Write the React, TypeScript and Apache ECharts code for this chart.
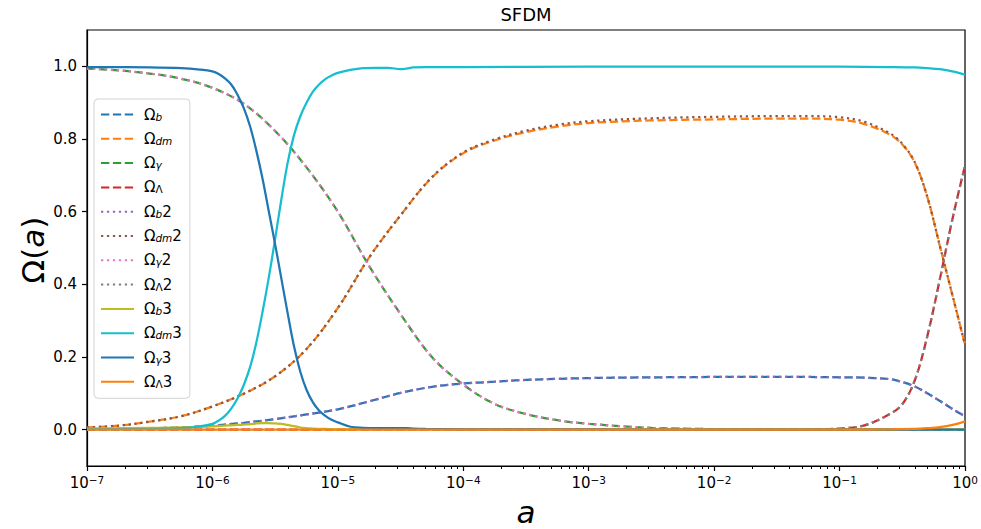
import React, { useEffect, useRef } from 'react';
import * as echarts from 'echarts';

// ---------- data (log10 of scale factor a, and density parameters) ----------
const LOG_A_12 = [-7, -6.75, -6.5, -6.25, -6, -5.75, -5.5, -5.25, -5, -4.75, -4.5, -4.25, -4, -3.75, -3.5, -3.25, -3, -2.5, -2, -1.5, -1.25, -1, -0.8, -0.6, -0.5, -0.4, -0.3, -0.2, -0.1, 0];

const OMEGA_B = [0.001, 0.002, 0.004, 0.006, 0.011, 0.019, 0.029, 0.042, 0.056, 0.078, 0.101, 0.118, 0.127, 0.132, 0.137, 0.140, 0.142, 0.144, 0.145, 0.145, 0.145, 0.144, 0.143, 0.139, 0.131, 0.119, 0.100, 0.079, 0.057, 0.037];
const OMEGA_DM = [0.006, 0.011, 0.022, 0.037, 0.064, 0.099, 0.147, 0.222, 0.335, 0.474, 0.590, 0.694, 0.761, 0.796, 0.819, 0.834, 0.844, 0.851, 0.854, 0.856, 0.856, 0.853, 0.841, 0.812, 0.785, 0.735, 0.640, 0.505, 0.370, 0.234];
const OMEGA_G = [0.994, 0.989, 0.980, 0.966, 0.941, 0.897, 0.822, 0.722, 0.600, 0.450, 0.318, 0.200, 0.124, 0.071, 0.043, 0.026, 0.016, 0.005, 0.0015, 0.0005, 0.0003, 0.0002, 0.0001, 0, 0, 0, 0, 0, 0, 0];
const OMEGA_L = [0, 0, 0, 0, 0, 0, 0, 0, 0, 0, 0, 0, 0, 0, 0, 0, 0, 0, 0, 0, 0.0005, 0.003, 0.012, 0.043, 0.070, 0.136, 0.258, 0.415, 0.580, 0.727];

const OMEGA_B2 = [0.001, 0.002, 0.004, 0.006, 0.011, 0.019, 0.029, 0.042, 0.056, 0.078, 0.101, 0.118, 0.127, 0.132, 0.137, 0.140, 0.142, 0.144, 0.145, 0.145, 0.145, 0.144, 0.143, 0.139, 0.131, 0.119, 0.100, 0.079, 0.057, 0.037];
const OMEGA_DM2 = [0.006, 0.011, 0.022, 0.037, 0.064, 0.099, 0.147, 0.222, 0.335, 0.474, 0.590, 0.695, 0.763, 0.799, 0.823, 0.839, 0.849, 0.857, 0.861, 0.863, 0.863, 0.860, 0.847, 0.816, 0.787, 0.736, 0.640, 0.505, 0.370, 0.234];
const OMEGA_G2 = [0.994, 0.989, 0.980, 0.966, 0.941, 0.897, 0.822, 0.722, 0.600, 0.450, 0.318, 0.200, 0.124, 0.071, 0.043, 0.026, 0.016, 0.005, 0.0015, 0.0005, 0.0003, 0.0002, 0.0001, 0, 0, 0, 0, 0, 0, 0];
const OMEGA_L2 = [0, 0, 0, 0, 0, 0, 0, 0, 0, 0, 0, 0, 0, 0, 0, 0, 0, 0, 0, 0, 0.0005, 0.003, 0.012, 0.043, 0.070, 0.136, 0.258, 0.415, 0.580, 0.727];

const LOG_A_3 = [-7, -6.5, -6.25, -6.1, -6.0, -5.95, -5.9, -5.85, -5.8, -5.75, -5.7, -5.65, -5.6, -5.55, -5.5, -5.45, -5.4, -5.35, -5.3, -5.25, -5.2, -5.15, -5.1, -5.05, -5.0, -4.9, -4.8, -4.7, -4.6, -4.5, -4.45, -4.4, -4.3, -4.0, -3.0, -2.0, -1.0, -0.6, -0.4, -0.3, -0.2, -0.1, 0];

const OMEGA_B3 = [0.003, 0.005, 0.006, 0.008, 0.009, 0.010, 0.011, 0.012, 0.013, 0.014, 0.015, 0.017, 0.018, 0.018, 0.017, 0.016, 0.013, 0.010, 0.006, 0.004, 0.003, 0.002, 0.002, 0.001, 0.001, 0.001, 0.001, 0.001, 0.001, 0.001, 0.001, 0.001, 0.001, 0.001, 0.001, 0.001, 0.001, 0.001, 0.001, 0.001, 0.001, 0.001, 0.001];
const OMEGA_DM3 = [0.001, 0.002, 0.004, 0.009, 0.016, 0.025, 0.038, 0.058, 0.086, 0.123, 0.172, 0.240, 0.325, 0.420, 0.525, 0.635, 0.735, 0.810, 0.862, 0.900, 0.930, 0.950, 0.965, 0.975, 0.982, 0.990, 0.995, 0.996, 0.996, 0.992, 0.994, 0.997, 0.998, 0.998, 0.999, 0.999, 0.999, 0.998, 0.997, 0.995, 0.992, 0.986, 0.977];
const OMEGA_G3 = [0.998, 0.997, 0.995, 0.991, 0.986, 0.979, 0.967, 0.950, 0.922, 0.885, 0.835, 0.768, 0.690, 0.600, 0.510, 0.415, 0.320, 0.230, 0.160, 0.110, 0.076, 0.053, 0.038, 0.027, 0.020, 0.008, 0.005, 0.004, 0.004, 0.004, 0.004, 0.003, 0.002, 0.001, 0.0005, 0, 0, 0, 0, 0, 0, 0, 0];
const OMEGA_L3 = [0, 0, 0, 0, 0, 0, 0, 0, 0, 0, 0, 0, 0, 0, 0, 0, 0, 0, 0, 0, 0, 0, 0, 0, 0, 0, 0, 0, 0, 0, 0, 0, 0, 0, 0, 0, 0, 0.0005, 0.002, 0.004, 0.007, 0.013, 0.023];

const X_TICK_EXPONENTS = [-7, -6, -5, -4, -3, -2, -1, 0];
const Y_TICKS = [0, 0.2, 0.4, 0.6, 0.8, 1.0];

const TITLE = 'SFDM';

// ---------- styling ----------
const FONT = '"DejaVu Sans", sans-serif';
const LW = 2.25;
const DASH = [8.3, 3.6];
const DOT = [2.25, 3.7];

type Def = { name: string; sub: string; italicSub: boolean; suffix: string; color: string; dash: number[] | 'solid'; logA: number[]; vals: number[] };

const DEFS: Def[] = [
  { name: 'Ωb', sub: 'b', italicSub: true, suffix: '', color: '#1f77b4', dash: DASH, logA: LOG_A_12, vals: OMEGA_B },
  { name: 'Ωdm', sub: 'dm', italicSub: true, suffix: '', color: '#ff7f0e', dash: DASH, logA: LOG_A_12, vals: OMEGA_DM },
  { name: 'Ωγ', sub: 'γ', italicSub: true, suffix: '', color: '#2ca02c', dash: DASH, logA: LOG_A_12, vals: OMEGA_G },
  { name: 'ΩΛ', sub: 'Λ', italicSub: false, suffix: '', color: '#d62728', dash: DASH, logA: LOG_A_12, vals: OMEGA_L },
  { name: 'Ωb2', sub: 'b', italicSub: true, suffix: '2', color: '#9467bd', dash: DOT, logA: LOG_A_12, vals: OMEGA_B2 },
  { name: 'Ωdm2', sub: 'dm', italicSub: true, suffix: '2', color: '#8c564b', dash: DOT, logA: LOG_A_12, vals: OMEGA_DM2 },
  { name: 'Ωγ2', sub: 'γ', italicSub: true, suffix: '2', color: '#e377c2', dash: DOT, logA: LOG_A_12, vals: OMEGA_G2 },
  { name: 'ΩΛ2', sub: 'Λ', italicSub: false, suffix: '2', color: '#7f7f7f', dash: DOT, logA: LOG_A_12, vals: OMEGA_L2 },
  { name: 'Ωb3', sub: 'b', italicSub: true, suffix: '3', color: '#bcbd22', dash: 'solid', logA: LOG_A_3, vals: OMEGA_B3 },
  { name: 'Ωdm3', sub: 'dm', italicSub: true, suffix: '3', color: '#17becf', dash: 'solid', logA: LOG_A_3, vals: OMEGA_DM3 },
  { name: 'Ωγ3', sub: 'γ', italicSub: true, suffix: '3', color: '#1f77b4', dash: 'solid', logA: LOG_A_3, vals: OMEGA_G3 },
  { name: 'ΩΛ3', sub: 'Λ', italicSub: false, suffix: '3', color: '#ff7f0e', dash: 'solid', logA: LOG_A_3, vals: OMEGA_L3 },
];

function minorTickValues(): number[] {
  const out: number[] = [];
  for (let e = -7; e < 0; e++) {
    for (let k = 2; k <= 9; k++) out.push(e + Math.log10(k));
  }
  return out;
}

export default function App() {
  const ref = useRef<HTMLDivElement>(null);

  useEffect(() => {
    if (!ref.current) return;
    const chart = echarts.init(ref.current, undefined, { renderer: 'svg' });

    const series = DEFS.map((d) => ({
      type: 'line',
      name: d.name,
      xAxisIndex: 0,
      yAxisIndex: 0,
      data: d.logA.map((L, i) => [Math.pow(10, L), d.vals[i]]),
      showSymbol: false,
      symbol: 'none',
      smooth: 0.35,
      silent: true,
      lineStyle: { color: d.color, width: LW, type: d.dash, cap: 'butt' },
      itemStyle: { color: d.color },
      emphasis: { disabled: true },
    }));

    const axisLineStyle = { color: '#000', width: 1.2 };

    const option: any = {
      animation: false,
      backgroundColor: '#fff',
      grid: {
        left: 87, right: 16, top: 30, bottom: 63,
        show: true, borderColor: '#000', borderWidth: 1.2, backgroundColor: 'transparent',
      },
      graphic: [
        {
          type: 'text', x: 526, y: 14, silent: true,
          style: { text: TITLE, fontFamily: FONT, fontSize: 18, fill: '#000', align: 'center', verticalAlign: 'middle' },
        },
        {
          type: 'text', x: 526, y: 512, silent: true,
          style: { text: 'a', fontFamily: FONT, fontSize: 31, fontStyle: 'italic', fill: '#000', align: 'center', verticalAlign: 'middle' },
        },
        {
          type: 'text', x: 33, y: 250, rotation: Math.PI / 2, silent: true,
          style: {
            text: '{n|Ω(}{i|a}{n|)}', align: 'center', verticalAlign: 'middle',
            rich: {
              n: { fontFamily: FONT, fontSize: 31, fill: '#000' },
              i: { fontFamily: FONT, fontSize: 31, fontStyle: 'italic', fill: '#000' },
            },
          },
        },
      ],
      legend: {
        orient: 'vertical',
        left: 94, top: 99,
        itemWidth: 33, itemHeight: 15, itemGap: 9.3,
        padding: [8, 8, 9, 6],
        backgroundColor: 'rgba(255,255,255,0.8)',
        borderColor: '#d3d3d3', borderWidth: 1, borderRadius: 4,
        selectedMode: false,
        itemStyle: { opacity: 0, borderWidth: 0 },
        data: DEFS.map((d) => d.name),
        formatter: (name: string) => {
          const d = DEFS.find((x) => x.name === name)!;
          const subStyle = d.italicSub ? 'si' : 'su';
          return `{o|Ω}{${subStyle}|${d.sub}}` + (d.suffix ? `{o|${d.suffix}}` : '');
        },
        textStyle: {
          fontFamily: FONT, fontSize: 15, color: '#000', padding: [0, 0, 0, 5],
          rich: {
            o: { fontFamily: FONT, fontSize: 15, color: '#000', lineHeight: 15 },
            si: { fontFamily: FONT, fontSize: 10.5, fontStyle: 'italic', color: '#000', lineHeight: 5, verticalAlign: 'bottom' },
            su: { fontFamily: FONT, fontSize: 10.5, color: '#000', lineHeight: 5, verticalAlign: 'bottom' },
          },
        },
      },
      xAxis: [
        { type: 'log', logBase: 10, min: 1e-7, max: 1, show: false, position: 'bottom', axisLine: { onZero: false } },
        {
          type: 'value', min: X_TICK_EXPONENTS[0], max: X_TICK_EXPONENTS[X_TICK_EXPONENTS.length - 1], interval: 1, position: 'bottom',
          axisLine: { show: true, onZero: false, lineStyle: axisLineStyle },
          axisTick: { show: true, length: 5, lineStyle: axisLineStyle },
          splitLine: { show: false },
          axisLabel: {
            margin: 8,
            formatter: (v: number) => {
              const e = Math.round(v);
              const exp = e === 0 ? '0' : '\u2212' + Math.abs(e);
              return `{b|10}{s|${exp}}`;
            },
            rich: {
              b: { fontFamily: FONT, fontSize: 15, color: '#000', lineHeight: 18 },
              s: { fontFamily: FONT, fontSize: 10.5, color: '#000', lineHeight: 9, verticalAlign: 'top' },
            },
          },
        },
        {
          type: 'value', min: -7, max: 0, position: 'bottom',
          axisLine: { show: false, onZero: false },
          axisTick: { show: true, length: 3, customValues: minorTickValues(), lineStyle: { color: '#000', width: 1 } },
          axisLabel: { show: false },
          splitLine: { show: false },
        },
      ],
      yAxis: [
        {
          type: 'value', min: -0.1, max: 1.1,
          axisLine: { show: true, onZero: false, lineStyle: axisLineStyle },
          axisTick: { show: true, length: 5, customValues: Y_TICKS, lineStyle: axisLineStyle },
          axisLabel: {
            customValues: Y_TICKS, margin: 10,
            formatter: (v: number) => v.toFixed(1),
            fontFamily: FONT, fontSize: 15, color: '#000',
          },
          splitLine: { show: false },
        },
      ],
      series,
    };

    chart.setOption(option);
    return () => chart.dispose();
  }, []);

  return <div ref={ref} style={{ position: 'fixed', left: 0, top: 0, width: 981, height: 529 }} />;
}
